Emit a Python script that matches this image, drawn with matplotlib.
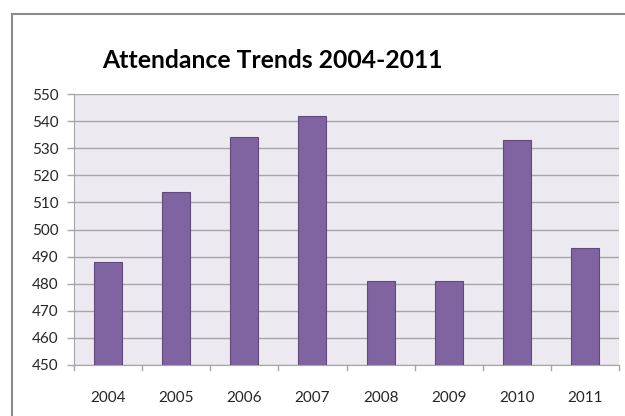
import matplotlib
matplotlib.use("Agg")
import matplotlib.pyplot as plt
from matplotlib.lines import Line2D

years = ["2004", "2005", "2006", "2007", "2008", "2009", "2010", "2011"]
attendance = [488, 514, 534, 542, 481, 481, 533, 493]
y_ticks = [450, 460, 470, 480, 490, 500, 510, 520, 530, 540, 550]

plt.rcParams['font.family'] = ['Lato', 'DejaVu Sans']

fig = plt.figure(figsize=(6.25, 4.16), dpi=100)
fig.patch.set_facecolor("white")

# plot area in figure pixels: x 74..619, y 94..365
W, H = 625.0, 416.0
ax = fig.add_axes([74 / W, (H - 365) / H, (619 - 74) / W, (365 - 94) / H])
ax.set_facecolor("#ECEAF0")

x = list(range(len(years)))
ax.bar(x, attendance, width=0.41, bottom=0, color="#8064A2",
       edgecolor="#5E4A7C", linewidth=0.8, zorder=3)

ax.set_xlim(-0.5, len(years) - 0.5)
ax.set_ylim(450, 550)
ax.set_yticks(y_ticks)
ax.set_yticklabels([str(v) for v in y_ticks])
ax.yaxis.grid(True, color="#A6A6A6", linewidth=1.0, zorder=1)
ax.set_axisbelow(True)

ax.set_xticks(x)
ax.set_xticklabels(years)
ax.tick_params(axis="x", length=0, pad=19, labelsize=11, colors="#262626")
ax.tick_params(axis="y", length=5, width=1, color="#A6A6A6", pad=6,
               labelsize=11, labelcolor="#262626")

# category boundary tick marks on x axis
for b in [i - 0.5 for i in range(len(years) + 1)]:
    ax.add_line(Line2D([b, b], [0, -0.02], transform=ax.get_xaxis_transform(),
                       color="#A6A6A6", linewidth=1, clip_on=False))

for side in ["top", "right"]:
    ax.spines[side].set_visible(False)
ax.spines["left"].set_color("#A6A6A6")
ax.spines["bottom"].set_color("#A6A6A6")

# outer chart border (top and left edges visible)
fig.add_artist(Line2D([12 / W, 12 / W], [0, (H - 14) / H], color="#8C8C8C", linewidth=1.5))
fig.add_artist(Line2D([12 / W, 1], [(H - 14) / H, (H - 14) / H], color="#8C8C8C", linewidth=1.5))

# title sized to roughly the width seen in the picture
title = fig.text(272 / W, (H - 61) / H, "Attendance Trends 2004-2011", ha="center",
                 va="center", fontsize=20, fontweight="bold", color="black")
renderer = fig.canvas.get_renderer()
w = title.get_window_extent(renderer).width
title.set_fontsize(20 * 342.0 / w)

fig.savefig("out.png", dpi=100)
